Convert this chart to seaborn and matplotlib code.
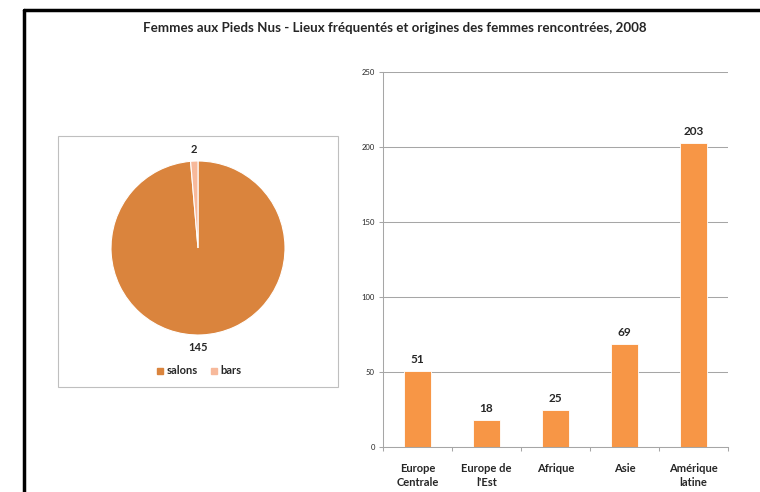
import matplotlib
matplotlib.use("Agg")
import matplotlib.pyplot as plt
import seaborn as sns
import pandas as pd
from matplotlib.patches import Rectangle
from matplotlib.lines import Line2D

# ---- data ----
title = "Femmes aux Pieds Nus - Lieux fréquentés et origines des femmes rencontrées, 2008"
pie_labels = ["salons", "bars"]
pie_values = [145, 2]
pie_colors = ["#DA843D", "#F7B99B"]

regions = ["Europe\nCentrale", "Europe de\nl'Est", "Afrique", "Asie", "Amérique\nlatine"]
counts = [51, 18, 25, 69, 203]
bar_color = "#F79646"
y_ticks = [0, 50, 100, 150, 200, 250]

sns.set_theme(style="white")
plt.rcParams['font.family'] = ['Lato', 'DejaVu Sans']

W, H = 760, 492
fig = plt.figure(figsize=(W / 100, H / 100), dpi=100)
fig.patch.set_facecolor("white")

def fx(x): return x / W
def fy(y): return 1 - y / H

# outer black frame (top + left visible)
fig.add_artist(Line2D([fx(24), fx(760)], [fy(10), fy(10)], color="black", lw=2.5, transform=fig.transFigure))
fig.add_artist(Line2D([fx(24), fx(24)], [fy(10), fy(492)], color="black", lw=2.5, transform=fig.transFigure))

fig.text(fx(395), fy(28), title, ha="center", va="center", fontsize=9.6, fontweight="bold")

# ---- pie ----
fig.add_artist(Rectangle((fx(58), fy(387)), fx(338) - fx(58), fy(136) - fy(387),
                         transform=fig.transFigure, fill=False, edgecolor="#BFBFBF", lw=0.8))
cx, cy, r = 198, 248, 87
axp = fig.add_axes([fx(cx - r), fy(cy + r), 2 * r / W, 2 * r / H])
wedges, _ = axp.pie(pie_values, colors=pie_colors, startangle=90, counterclock=False,
                    wedgeprops=dict(edgecolor="white", linewidth=0.8))
axp.set_xlim(-1, 1)
axp.set_ylim(-1, 1)
axp.set_aspect("equal")
axp.axis("off")
axp.text(-0.05, 1.135, str(pie_values[1]), ha="center", va="center", fontsize=8,
         fontweight="bold", clip_on=False)
axp.text(0.0, -1.14, str(pie_values[0]), ha="center", va="center", fontsize=8,
         fontweight="bold", clip_on=False)
handles = [Line2D([], [], marker="s", linestyle="", color=c, markersize=5) for c in pie_colors]
leg = fig.legend(handles, pie_labels, loc="center", bbox_to_anchor=(fx(198), fy(371)),
                 ncol=2, frameon=False, handletextpad=0.1, columnspacing=1.0,
                 prop=dict(size=8, weight="bold"), handlelength=1.0)

# ---- bars ----
axb = fig.add_axes([fx(383), fy(447.3), (728 - 383) / W, (447.3 - 72.3) / H])
df = pd.DataFrame({"region": regions, "count": counts})
sns.barplot(data=df, x="region", y="count", color=bar_color, saturation=1, width=0.39,
            ax=axb, edgecolor="white", linewidth=0.6)
axb.set_ylim(0, 250)
axb.set_xlim(-0.5, len(regions) - 0.5)
axb.set_yticks(y_ticks)
axb.set_yticklabels([str(t) for t in y_ticks], fontsize=5.5)
axb.yaxis.grid(True, color="#A6A6A6", lw=0.75)
axb.set_axisbelow(True)
axb.set_xlabel("")
axb.set_ylabel("")
for s in ["top", "right"]:
    axb.spines[s].set_visible(False)
for s in ["left", "bottom"]:
    axb.spines[s].set_color("#A6A6A6")
    axb.spines[s].set_linewidth(0.75)
axb.tick_params(axis="y", which="major", left=True, length=3, width=0.75, color="#A6A6A6", pad=3)
axb.tick_params(axis="x", which="major", bottom=False, pad=5)
axb.set_xticks([i - 0.5 for i in range(len(regions) + 1)], minor=True)
axb.tick_params(axis="x", which="minor", bottom=True, length=3, width=0.75, color="#A6A6A6")
for lab in axb.get_xticklabels():
    lab.set_fontsize(8)
    lab.set_fontweight("bold")
    lab.set_linespacing(1.35)
    lab.set_va("top")
for i, v in enumerate(counts):
    axb.text(i, v + 4, str(v), ha="center", va="bottom", fontsize=8.5, fontweight="bold")

fig.savefig("out.png", dpi=100, facecolor="white")
